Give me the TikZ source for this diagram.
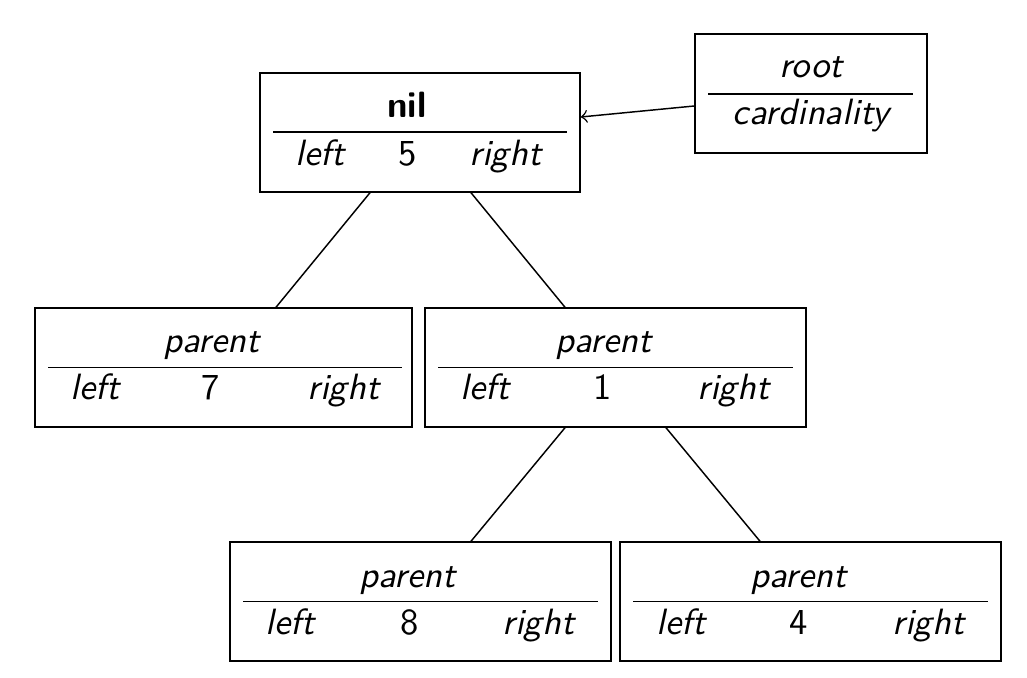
\documentclass[tikz,border=0pt]{standalone}
\usepackage{fontspec}
\usetikzlibrary{calc}
\begin{document}
\begin{tikzpicture}[x=0.2732pt,y=-0.2732pt,
  font=\sffamily,
  box/.style={draw,rectangle,inner sep=0pt,minimum height=32.51pt},
  wide/.style={box,minimum width=104.09pt},
  lbl/.style={inner sep=0pt,anchor=base,font=\sffamily\itshape},
  lblw/.style={lbl,anchor=base west},
  lble/.style={lbl,anchor=base east},
  num/.style={inner sep=0pt,anchor=base,font=\sffamily},
  edge/.style={draw,line width=0.4pt}]
\useasboundingbox (0,0) rectangle (1027,678);
% boxes
\node[box,minimum width=87.42pt] (R) at (420,132.5) {};
\node[box,minimum width=63.38pt] (C) at (811,93.5) {};
\node[box,minimum width=103.0pt] (L) at (223.5,367.5) {};
\node[wide] (Rc) at (615.5,367.5) {};
\node[wide] (BL) at (420.5,601.5) {};
\node[wide] (BR) at (810.5,601.5) {};
% root node contents
\node[num,font=\sffamily\bfseries] (Rt) at (407,118) {nil};
\draw (273,132) -- (567,132);
\node[lblw] (Rl) at (295,166) {left};
\node[num] (Rn) at (408,166) {5};
\node[lble] (Rr) at (542,166) {right};
% card
\node[lbl] (Ct) at (811,78) {root};
\draw (708,94) -- (913,94);
\node[lbl] (Cb) at (811,125) {cardinality};
% left child
\node[lbl] (Lt) at (211.5,353) {parent};
\draw (48,367.5) -- (402,367.5);
\node[lblw] (Ll) at (70,400) {left};
\node[num] (Ln) at (211,400) {7};
\node[lble] (Lr) at (380,400) {right};
% right child
\node[lbl] (Rct) at (603.5,353) {parent};
\draw (438,367.5) -- (793,367.5);
\node[lblw] (Rcl) at (460,400) {left};
\node[num] (Rcn) at (603,400) {1};
\node[lble] (Rcr) at (770,400) {right};
% bottom left
\node[lbl] (BLt) at (407.5,587.5) {parent};
\draw (243,601.5) -- (598,601.5);
\node[lblw] (BLl) at (265,634.5) {left};
\node[num] (BLn) at (409.5,634.5) {8};
\node[lble] (BLr) at (575,634.5) {right};
% bottom right
\node[lbl] (BRt) at (798.5,587.5) {parent};
\draw (633,601.5) -- (988,601.5);
\node[lblw] (BRl) at (656,634.5) {left};
\node[num] (BRn) at (798.5,634.5) {4};
\node[lble] (BRr) at (965,634.5) {right};
% edges
\draw[edge] ($(R.south)+(-50,0)$) -- ($(L.north)+(52.5,0)$);
\draw[edge] ($(R.south)+(51,0)$) -- ($(Rc.north)+(-50.5,0)$);
\draw[edge] ($(Rc.south)+(-50.5,0)$) -- ($(BL.north)+(50.5,0)$);
\draw[edge] ($(Rc.south)+(50.5,0)$) -- ($(BR.north)+(-50.5,0)$);
\draw[edge,->] ($(C.west)+(0,12.5)$) -- ($(R.east)+(0,-15.5)$);
\end{tikzpicture}
\end{document}
